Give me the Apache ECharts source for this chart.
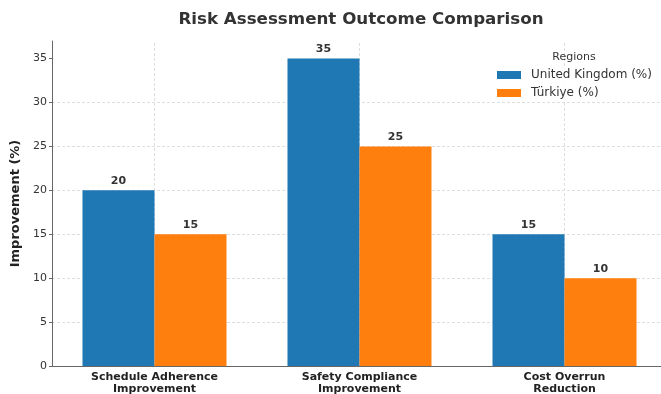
<!DOCTYPE html>
<html>
<head>
<meta charset="utf-8">
<script src="https://cdn.jsdelivr.net/npm/echarts@6/dist/echarts.min.js"></script>
<style>
  html, body { margin: 0; padding: 0; background: #fff; }
  #chart { width: 661px; height: 394px; }
</style>
</head>
<body>
<div id="chart"></div>
<script>
// chart data
const categories = ['Schedule Adherence\nImprovement', 'Safety Compliance\nImprovement', 'Cost Overrun\nReduction'];
const ukValues = [20, 35, 15];
const turkiyeValues = [15, 25, 10];
const seriesNames = ['United Kingdom (%)', 'Türkiye (%)'];
const yTicks = [0, 5, 10, 15, 20, 25, 30, 35];

const font = 'DejaVu Sans';
const gridColor = '#dedede';

const barLabel = {
    show: true,
    position: 'top',
    distance: 4,
    fontFamily: font,
    fontWeight: 'bold',
    fontSize: 11,
    color: '#333'
};

let option = {
    animation: false,
    textStyle: { fontFamily: font },
    title: [{
        text: 'Risk Assessment Outcome Comparison',
        left: 356,
        top: 6,
        textAlign: 'center',
        textStyle: { fontFamily: font, fontSize: 16.7, fontWeight: 'bold', color: '#333' }
    }, {
        text: 'Regions',
        left: 569,
        top: 47,
        textAlign: 'center',
        textStyle: { fontFamily: font, fontSize: 11, fontWeight: 'normal', color: '#333' }
    }],
    legend: {
        orient: 'vertical',
        left: 493,
        top: 67,
        itemWidth: 24,
        itemHeight: 8,
        itemGap: 6,
        icon: 'rect',
        backgroundColor: 'rgba(255,255,255,0.85)',
        padding: [2, 4, 2, 4],
        textStyle: { fontFamily: font, fontSize: 12, color: '#333', padding: [0, 0, 0, 5] },
        data: seriesNames
    },
    grid: { left: 52, top: 41, width: 615, height: 325, outerBoundsMode: 'none' },
    xAxis: {
        type: 'category',
        data: categories,
        axisLine: { show: true, lineStyle: { color: '#666', width: 1 } },
        axisTick: { show: false },
        axisLabel: {
            margin: 5,
            fontFamily: font,
            fontWeight: 'bold',
            fontSize: 11,
            lineHeight: 12,
            color: '#222',
            interval: 0
        },
        splitLine: { show: false }
    },
    yAxis: {
        type: 'value',
        min: 0,
        max: 37,
        interval: 5,
        name: 'Improvement (%)',
        nameLocation: 'middle',
        nameGap: 20,
        nameTextStyle: { fontFamily: font, fontSize: 13, fontWeight: 'bold', color: '#222' },
        axisLine: { show: true, lineStyle: { color: '#666', width: 1 } },
        axisTick: {
            show: true,
            length: 3,
            customValues: yTicks,
            lineStyle: { color: '#666' }
        },
        axisLabel: {
            margin: 5,
            fontFamily: font,
            fontSize: 11,
            color: '#333',
            customValues: yTicks
        },
        splitLine: {
            show: true,
            showMinLine: false,
            showMaxLine: false,
            lineStyle: { color: gridColor, type: [3, 2], width: 1 }
        }
    },
    series: [{
        // carries only the vertical grid lines at each category centre
        name: 'grid',
        type: 'line',
        data: [],
        silent: true,
        z: 1,
        markLine: {
            silent: true,
            symbol: 'none',
            z: 1,
            label: { show: false },
            lineStyle: { color: gridColor, type: [3, 2], width: 1 },
            data: categories.map(c => ({ xAxis: c }))
        }
    }, {
        name: seriesNames[0],
        type: 'bar',
        data: ukValues,
        barWidth: 72,
        barGap: '0%',
        itemStyle: { color: '#1f77b4' },
        label: barLabel,
        z: 2
    }, {
        name: seriesNames[1],
        type: 'bar',
        data: turkiyeValues,
        barWidth: 72,
        barGap: '0%',
        itemStyle: { color: '#ff7f0e' },
        label: barLabel,
        z: 2
    }]
};

let myChart = echarts.init(document.getElementById('chart'), null, { renderer: 'canvas' });
myChart.setOption(option);
</script>
</body>
</html>
